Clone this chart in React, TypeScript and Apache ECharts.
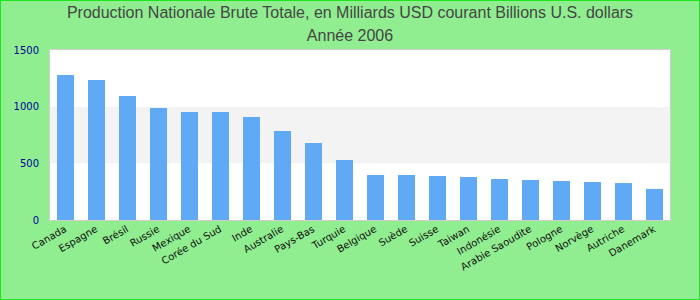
import React, { useEffect, useRef } from "react";
import * as echarts from "echarts";

const titleLines = [
  "Production Nationale Brute Totale, en Milliards USD courant Billions U.S. dollars",
  "Année 2006",
];

const countries = [
  "Canada", "Espagne", "Brésil", "Russie", "Mexique", "Corée du Sud", "Inde",
  "Australie", "Pays-Bas", "Turquie", "Belgique", "Suède", "Suisse", "Taiwan",
  "Indonésie", "Arabie Saoudite", "Pologne", "Norvège", "Autriche", "Danemark",
];

const gdpValues = [
  1279, 1235, 1094, 988, 953, 953, 909, 785, 679, 529,
  397, 397, 388, 379, 362, 353, 344, 335, 326, 274,
];

const yMin = 0;
const yMax = 1500;
const yInterval = 500;

export default function App() {
  const ref = useRef<HTMLDivElement>(null);

  useEffect(() => {
    if (!ref.current) return;
    const chart = echarts.init(ref.current, null, { renderer: "svg" });
    chart.setOption({
      animation: false,
      backgroundColor: "#90ee90",
      title: {
        text: titleLines.join("\n"),
        left: "center",
        top: 1,
        padding: 0,
        textStyle: {
          fontFamily: "Liberation Sans, Arial, sans-serif",
          fontSize: 16,
          fontWeight: "normal",
          lineHeight: 23,
          color: "#454545",
        },
      },
      grid: {
        left: 50,
        right: 30,
        top: 50,
        bottom: 80,
        show: true,
        backgroundColor: "#ffffff",
        borderColor: "#cfcfcf",
        borderWidth: 2,
      },
      xAxis: {
        type: "category",
        data: countries,
        axisLine: { show: false },
        axisTick: { show: false },
        axisLabel: {
          rotate: 30,
          interval: 0,
          margin: 8,
          fontFamily: "DejaVu Sans, sans-serif",
          fontSize: 10,
          color: "#111111",
        },
      },
      yAxis: {
        type: "value",
        min: yMin,
        max: yMax,
        interval: yInterval,
        axisLine: { show: false },
        axisTick: { show: false },
        splitLine: { show: false },
        splitArea: { show: true, areaStyle: { color: ["#ffffff", "#f3f3f3"] } },
        axisLabel: {
          margin: 11,
          fontFamily: "DejaVu Sans, sans-serif",
          fontSize: 10,
          color: "#000099",
          formatter: (v: number) => String(v),
        },
      },
      series: [
        {
          type: "bar",
          data: gdpValues,
          barWidth: 17,
          itemStyle: { color: "#60a9f5" },
        },
      ],
    });
    return () => chart.dispose();
  }, []);

  return (
    <div style={{ position: "fixed", left: 0, top: 0, width: 700, height: 300 }}>
      <div ref={ref} style={{ width: 700, height: 300 }} />
      <div
        style={{
          position: "absolute",
          left: 0,
          top: 0,
          width: 700,
          height: 300,
          boxSizing: "border-box",
          border: "1px solid #1ee61e",
          pointerEvents: "none",
        }}
      />
    </div>
  );
}
